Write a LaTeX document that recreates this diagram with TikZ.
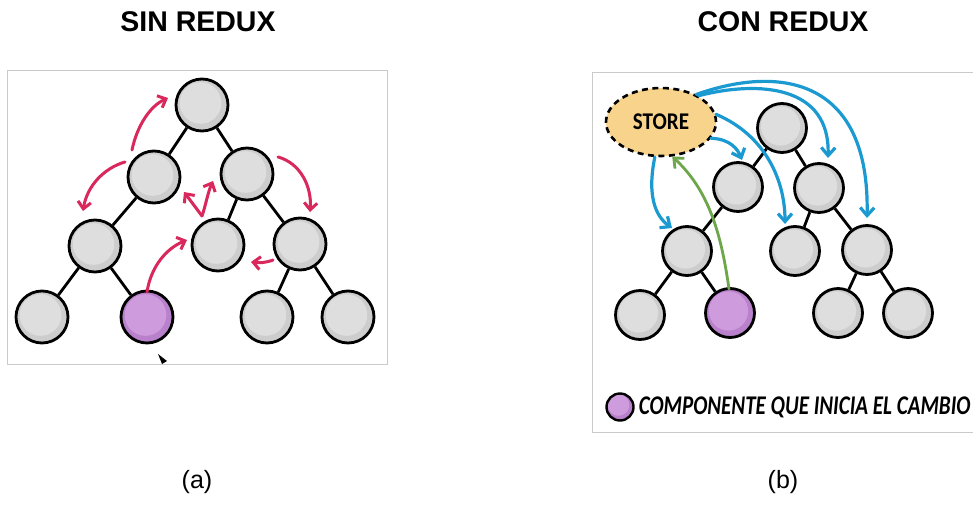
\documentclass[tikz,border=0pt]{standalone}
\usepackage{fontspec}
\setmainfont{Liberation Sans}
\newfontfamily\handfont{Carlito}
\usetikzlibrary{arrows.meta,shapes.geometric}

\definecolor{nodegray}{HTML}{CDCDCD}
\definecolor{nodelight}{HTML}{DEDEDE}
\definecolor{purpdark}{HTML}{B981CB}
\definecolor{purplight}{HTML}{CE9BDD}
\definecolor{redarrow}{HTML}{D9285C}
\definecolor{bluearrow}{HTML}{1B9AD2}
\definecolor{greenarrow}{HTML}{6EA64C}
\definecolor{storefill}{HTML}{F8D38C}
\definecolor{framegray}{HTML}{CACACA}

\tikzset{
  comp/.style={circle, draw=black, line width=2.8pt, inner sep=0pt,
    minimum size=#1, fill=nodegray,
    path picture={\fill[nodelight] ([xshift=-1.5pt,yshift=2pt]path picture bounding box.center) circle (0.40*#1);}},
  comp/.default=50pt,
  active/.style={circle, draw=black, line width=2.8pt, inner sep=0pt,
    minimum size=#1, fill=purpdark,
    path picture={\fill[purplight] ([xshift=-1.5pt,yshift=2pt]path picture bounding box.center) circle (0.40*#1);}},
  active/.default=50pt,
  link/.style={draw=black, line width=2.8pt},
  redflow/.style={draw=redarrow, line width=3pt, line cap=round,
    -{Straight Barb[length=7pt,width=13pt,line width=3pt]}},
  blueflow/.style={draw=bluearrow, line width=3.2pt, line cap=round,
    -{Straight Barb[length=8pt,width=14pt,line width=3.2pt]}},
  greenflow/.style={draw=greenarrow, line width=2.8pt, line cap=round,
    -{Straight Barb[length=8pt,width=14pt,line width=2.8pt]}},
  panel/.style={draw=framegray, line width=1pt},
  title/.style={font=\fontsize{28.5}{32}\selectfont\bfseries},
  caption/.style={font=\fontsize{25}{28}\selectfont},
}

\begin{document}
\begin{tikzpicture}[x=1pt,y=-1pt]
\useasboundingbox[fill=white] (0,0) rectangle (973,506);

% ---------- titles and captions ----------
\node[title] (tleft) at (198,22) {SIN REDUX};
\node[title] (tright) at (783,22) {CON REDUX};
\node[caption] (capa) at (197,482) {(a)};
\node[caption] (capb) at (783,482) {(b)};

% ---------- panel (a): without a store ----------
\draw[panel] (7,70) rectangle (387,364);

\node[comp=52pt] (root) at (202,105) {};
\node[comp=52pt] (a1) at (154,177) {};
\node[comp=52pt] (a2) at (247,174) {};
\node[comp=52pt] (b1) at (95,246) {};
\node[comp=52pt] (b2) at (218,245) {};
\node[comp=52pt] (b3) at (300,244) {};
\node[comp=52pt] (c1) at (42,317) {};
\node[active=52pt] (c2) at (147,317) {};
\node[comp=52pt] (c3) at (267,317) {};
\node[comp=52pt] (c4) at (348,317) {};

\path[link] (root) -- (a1);
\path[link] (root) -- (a2);
\path[link] (a1) -- (b1);
\path[link] (a2) -- (b2);
\path[link] (a2) -- (b3);
\path[link] (b1) -- (c1);
\path[link] (b1) -- (c2);
\path[link] (b3) -- (c3);
\path[link] (b3) -- (c4);

% change propagated from component to component
\coordinate (r1s) at (132,150); \coordinate (r1e) at (168,98);
\draw[redflow] (r1s) .. controls (137,126) and (150,106) .. (r1e);
\coordinate (r2s) at (125,162); \coordinate (r2e) at (83,211);
\draw[redflow] (r2s) .. controls (104,168) and (87,186) .. (r2e);
\coordinate (r3s) at (278,157); \coordinate (r3e) at (310,212);
\draw[redflow] (r3s) .. controls (300,163) and (312,186) .. (r3e);
\coordinate (vbase) at (202,216);
\coordinate (vleft) at (184,192); \coordinate (vright) at (213,181);
\draw[redflow] (vbase) -- (vleft);
\draw[redflow] (vbase) .. controls (206,204) and (208,192) .. (vright);
\coordinate (r5s) at (147,292); \coordinate (r5e) at (187,240);
\draw[redflow] (r5s) .. controls (151,266) and (167,248) .. (r5e);
\coordinate (r6s) at (273,260); \coordinate (r6e) at (251,262);
\draw[redflow] (r6s) .. controls (265,263) and (259,263) .. (r6e);

% pointer tip at the lower edge
\fill[black] (158,354) -- (167,361) -- (162,364) -- cycle;

% ---------- panel (b): with a store ----------
\draw[panel] (592,72) -- (980,72);
\draw[panel] (592,72) -- (592,432) -- (980,432);

\node[ellipse, draw=black, line width=2.6pt, dash pattern=on 6pt off 4.5pt,
  fill=storefill, minimum width=110pt, minimum height=68pt,
  font=\handfont\bfseries\fontsize{24}{26}\selectfont] (store) at (661,122) {\scalebox{0.88}[1]{STORE}};

\node[comp=49pt] (R) at (782,128) {};
\node[comp=49pt] (A1) at (738,187) {};
\node[comp=49pt] (A2) at (819,188) {};
\node[comp=49pt] (B1) at (687,251) {};
\node[comp=49pt] (B2) at (795,251) {};
\node[comp=49pt] (B3) at (867,250) {};
\node[comp=49pt] (C1) at (640,315) {};
\node[active=49pt] (C2) at (730,313) {};
\node[comp=49pt] (C3) at (838,313) {};
\node[comp=49pt] (C4) at (908,313) {};

\path[link] (R) -- (A1);
\path[link] (R) -- (A2);
\path[link] (A1) -- (B1);
\path[link] (A2) -- (B2);
\path[link] (A2) -- (B3);
\path[link] (B1) -- (C1);
\path[link] (B1) -- (C2);
\path[link] (B3) -- (C3);
\path[link] (B3) -- (C4);

% the component dispatches to the store
\coordinate (gs) at (729,289);
\draw[greenflow] (gs) .. controls (722,240) and (711,192) .. (store.-72);

% the store notifies every subscribed component
\coordinate (t1) at (672,228);
\draw[blueflow] (store.-100) .. controls (647,195) and (655,216) .. (t1);
\coordinate (t2) at (742,160);
\draw[blueflow] (store.-18) .. controls (731,139) and (738,150) .. (t2);
\coordinate (t3) at (785,224);
\draw[blueflow] (store.8) .. controls (765,135) and (785,180) .. (t3);
\coordinate (t4) at (828,158);
\draw[blueflow] (store.35) .. controls (760,80) and (830,86) .. (t4);
\coordinate (t5) at (867,218);
\draw[blueflow] (store.38) .. controls (782,64) and (870,80) .. (t5);

% legend
\node[active=27pt, line width=2.4pt] (key) at (620,407) {};
\node[anchor=west, inner sep=0pt,
  font=\handfont\bfseries\itshape\fontsize{27}{29}\selectfont] (keytext)
  at ([xshift=4pt]key.east) {\scalebox{0.78}[1]{COMPONENTE QUE INICIA EL CAMBIO}};
\end{tikzpicture}
\end{document}
